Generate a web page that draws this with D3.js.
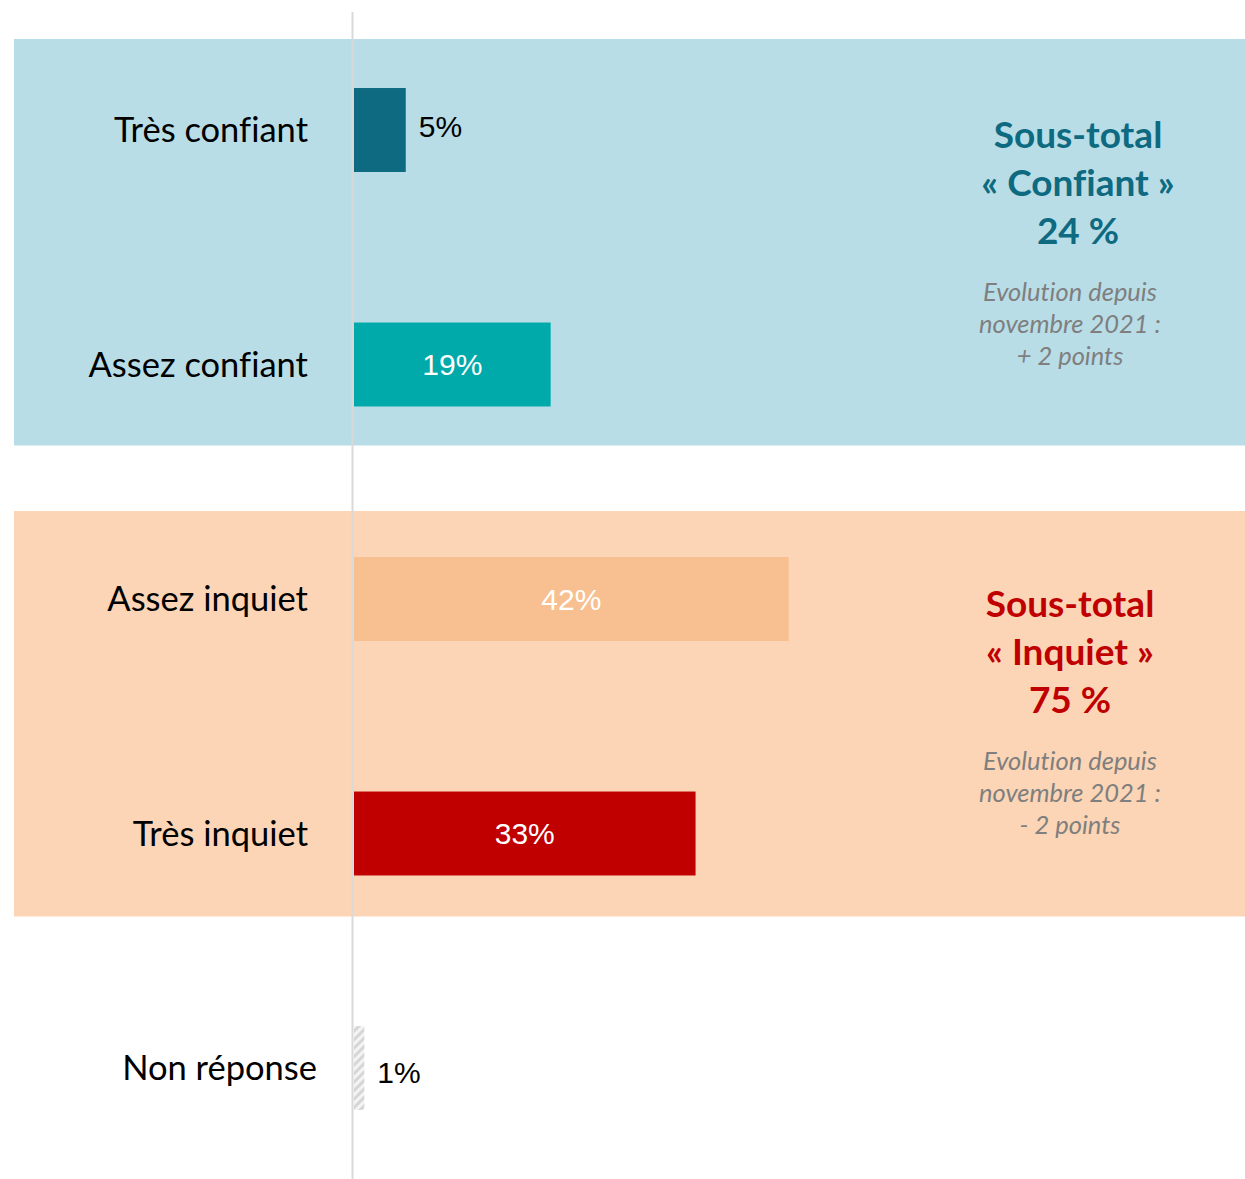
<!DOCTYPE html>
<html>
<head>
<meta charset="utf-8">
<script src="https://cdn.jsdelivr.net/npm/d3@7"></script>
<style>
  body { margin: 0; background: #fff; }
  text { font-variant-ligatures: none; }
</style>
</head>
<body>
<script>
// data
var categories = ["Très confiant", "Assez confiant", "Assez inquiet", "Très inquiet", "Non réponse"];
var values = [5, 19, 42, 33, 1];
var barColors = ["#0e6a80", "#00a9aa", "#f8c090", "#c00000", "url(#hatch)"];
var insideLabel = [false, true, true, true, false];

var groupNames = ["confiant", "inquiet"];
var groupMembers = [["Très confiant", "Assez confiant"], ["Assez inquiet", "Très inquiet"]];
var groupTitles = [["Sous-total", "« Confiant »", "24 %"], ["Sous-total", "« Inquiet »", "75 %"]];
var groupNotes = [["Evolution depuis", "novembre 2021 :", "+ 2 points"], ["Evolution depuis", "novembre 2021 :", "- 2 points"]];
var groupBg = ["#b8dde7", "#fbd5b5"];
var groupInk = ["#0e6a80", "#c00000"];

var W = 1245, H = 1179;
var svg = d3.select("body").append("svg")
    .attr("width", W)
    .attr("height", H)
    .style("display", "block");

var defs = svg.append("defs");
var pat = defs.append("pattern")
    .attr("id", "hatch")
    .attr("patternUnits", "userSpaceOnUse")
    .attr("width", 6)
    .attr("height", 6)
    .attr("patternTransform", "rotate(45)");
pat.append("rect").attr("width", 6).attr("height", 6).attr("fill", "#f4f4f4");
pat.append("rect").attr("width", 3).attr("height", 6).attr("fill", "#d6d6d6");

var x0 = 354;
var x = d3.scaleLinear().domain([0, 100]).range([x0, x0 + 1035]);

var y = d3.scaleBand()
    .domain(categories)
    .range([12.75, 12.75 + 5 * 234.5])
    .paddingInner(0.642)
    .paddingOuter(0.321);

var bw = y.bandwidth();

// group backgrounds and sub-total texts
var bgPad = [[91, 81], [88, 83]];
var titleX = [1078, 1070];
groupNames.forEach(function(name, gi) {
    var first = groupMembers[gi][0], last = groupMembers[gi][groupMembers[gi].length - 1];
    var top = y(first) + bw / 2 - bgPad[gi][0];
    var bottom = y(last) + bw / 2 + bgPad[gi][1];
    svg.append("rect")
        .attr("x", 14)
        .attr("y", top)
        .attr("width", W - 14)
        .attr("height", bottom - top)
        .attr("fill", groupBg[gi]);

    var cx = titleX[gi];
    var mid = (y(first) + y(last) + bw) / 2;
    var tt = svg.append("text")
        .attr("text-anchor", "middle")
        .attr("fill", groupInk[gi])
        .style("font-family", "Lato, 'Open Sans', sans-serif")
        .style("font-weight", "bold")
        .style("font-size", "37px");
    groupTitles[gi].forEach(function(t, i) {
        tt.append("tspan").attr("x", cx).attr("y", mid - 99 + i * 48).text(t);
    });
    var nt = svg.append("text")
        .attr("text-anchor", "middle")
        .attr("fill", "#7f7f7f")
        .style("font-family", "Lato, 'Open Sans', sans-serif")
        .style("font-style", "italic")
        .style("font-size", "25.5px");
    groupNotes[gi].forEach(function(t, i) {
        nt.append("tspan").attr("x", 1070).attr("y", mid + 54 + i * 32).text(t);
    });
});

// axis line
svg.append("line")
    .attr("x1", 352.5).attr("x2", 352.5)
    .attr("y1", 12).attr("y2", H)
    .attr("stroke", "#d9d9d9")
    .attr("stroke-width", 2);

var data = categories.map(function(c, i) {
    return {cat: c, value: values[i], color: barColors[i], inside: insideLabel[i]};
});

svg.selectAll(".bar")
    .data(data)
    .enter()
    .append("rect")
    .attr("class", "bar")
    .attr("x", x(0))
    .attr("y", function(d) { return y(d.cat); })
    .attr("width", function(d) { return x(d.value) - x(0); })
    .attr("height", bw)
    .attr("fill", function(d) { return d.color; });

// category labels
svg.selectAll(".cat")
    .data(data)
    .enter()
    .append("text")
    .attr("class", "cat")
    .attr("x", function(d) { return d.cat === "Non réponse" ? 317 : 308; })
    .attr("y", function(d) { return y(d.cat) + bw / 2; })
    .attr("dy", "0.35em")
    .attr("text-anchor", "end")
    .attr("fill", "#000")
    .style("font-family", "Lato, 'Open Sans', sans-serif")
    .style("font-size", "34.5px")
    .text(function(d) { return d.cat; });

// value labels
svg.selectAll(".val")
    .data(data)
    .enter()
    .append("text")
    .attr("class", "val")
    .attr("x", function(d) {
        return d.inside ? (x(0) + x(d.value)) / 2 : x(d.value) + 13;
    })
    .attr("y", function(d) { return y(d.cat) + bw / 2 + (d.inside ? 0 : -4 + (d.cat === "Non réponse" ? 8 : 0)); })
    .attr("dy", "0.35em")
    .attr("text-anchor", function(d) { return d.inside ? "middle" : "start"; })
    .attr("fill", function(d) { return d.inside ? "#fff" : "#000"; })
    .style("font-family", "'Liberation Sans', Arial, sans-serif")
    .style("font-size", "30px")
    .text(function(d) { return d.value + "%"; });
</script>
</body>
</html>
